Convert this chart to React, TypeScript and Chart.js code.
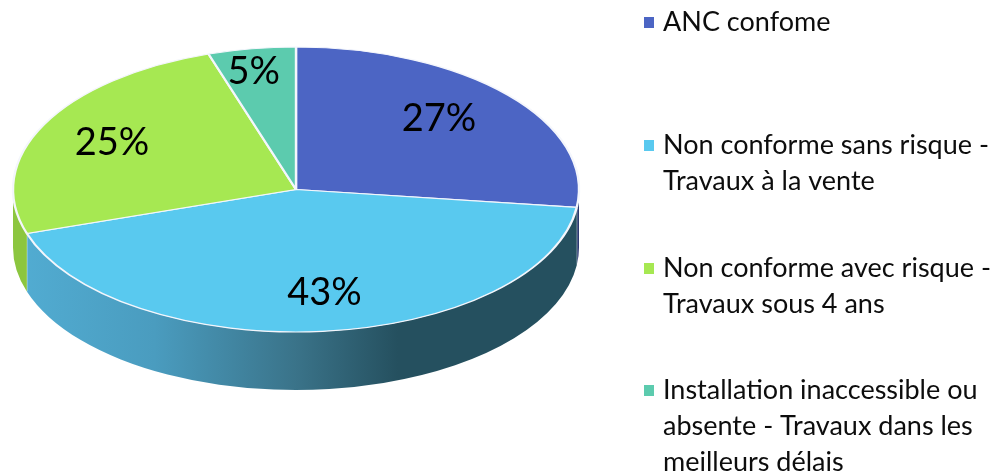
import React, { useEffect, useRef } from "react";
import { Chart, registerables } from "chart.js";

Chart.register(...registerables);

const categories: string[][] = [
  ["ANC confome"],
  ["Non conforme sans risque -", "Travaux à la vente"],
  ["Non conforme avec risque -", "Travaux sous 4 ans"],
  ["Installation inaccessible ou", "absente - Travaux dans les", "meilleurs délais"],
];
const values = [27, 43, 25, 5];
const topColors = ["#4C65C4", "#59C9EF", "#A6E852", "#5CCBAE"];
const sideColors = ["#2A3A70", "", "#8CC63F", "#3E8A76"];
const labelNudges = [[-12, -2], [9, 0], [0, 0], [-10, -15]];
const legendBaselines = [31, 154, 277, 399];

const CX = 296, CY = 189.5, RX = 283, RY = 142.5, DEPTH = 58;
const FONT = "Lato";

const pie3d = {
  id: "pie3d",
  beforeDatasetsDraw(chart: any) {
    const ctx = chart.ctx as CanvasRenderingContext2D;
    const arcs = chart.getDatasetMeta(0).data;
    const blue = ctx.createLinearGradient(CX - RX, 0, CX + RX, 0);
    blue.addColorStop(0, "#52ADD3");
    blue.addColorStop(0.25, "#4A9CBF");
    blue.addColorStop(0.5, "#3A7389");
    blue.addColorStop(0.68, "#25505F");
    blue.addColorStop(1, "#25505F");
    arcs.forEach((arc: any, i: number) => {
      const a = Math.max(arc.startAngle, 0);
      const b = Math.min(arc.endAngle, Math.PI);
      if (b <= a) return;
      ctx.save();
      ctx.beginPath();
      ctx.ellipse(CX, CY, RX, RY, 0, a, b);
      ctx.ellipse(CX, CY + DEPTH, RX, RY, 0, b, a, true);
      ctx.closePath();
      ctx.fillStyle = i === 1 ? blue : sideColors[i];
      ctx.fill();
      const x = CX + RX * Math.cos(b);
      const y = CY + RY * Math.sin(b);
      if (b < Math.PI) {
        ctx.beginPath();
        ctx.moveTo(x, y);
        ctx.lineTo(x, y + DEPTH);
        ctx.strokeStyle = "rgba(255,255,255,0.7)";
        ctx.lineWidth = 1;
        ctx.stroke();
      }
      ctx.restore();
    });
    const first = arcs[0];
    ctx.save();
    ctx.translate(CX, CY);
    ctx.scale(RX / first.outerRadius, RY / first.outerRadius);
    ctx.translate(-first.x, -first.y);
  },
  afterDatasetsDraw(chart: any) {
    const ctx = chart.ctx as CanvasRenderingContext2D;
    ctx.restore();
    const arcs = chart.getDatasetMeta(0).data;
    const total = values.reduce((s, v) => s + v, 0);
    ctx.save();
    ctx.fillStyle = "#000000";
    ctx.textAlign = "center";
    ctx.textBaseline = "middle";
    ctx.font = `38px ${FONT}`;
    arcs.forEach((arc: any, i: number) => {
      const mid = (arc.startAngle + arc.endAngle) / 2;
      const x = CX + RX * 0.73 * Math.cos(mid) + labelNudges[i][0];
      const y = CY + RY * 0.73 * Math.sin(mid) + labelNudges[i][1];
      ctx.fillText(`${Math.round((values[i] / total) * 100)}%`, x, y);
    });
    ctx.textAlign = "left";
    ctx.textBaseline = "alphabetic";
    ctx.font = `27px ${FONT}`;
    categories.forEach((lines, i) => {
      const base = legendBaselines[i];
      ctx.fillStyle = topColors[i];
      ctx.fillRect(644, base - 14, 10, 11);
      ctx.fillStyle = "#0D0D0D";
      lines.forEach((t, j) => ctx.fillText(t, 663, base + j * 36));
    });
    ctx.restore();
  },
};

export default function App() {
  const ref = useRef<HTMLCanvasElement>(null);
  useEffect(() => {
    const chart = new Chart(ref.current as HTMLCanvasElement, {
      type: "pie",
      data: {
        labels: categories,
        datasets: [
          {
            data: values,
            backgroundColor: topColors,
            borderColor: "#F4F6FC",
            borderWidth: 2,
            clip: false,
          } as any,
        ],
      },
      options: {
        responsive: false,
        animation: false,
        layout: { padding: 0 },
        plugins: { legend: { display: false }, tooltip: { enabled: false }, title: { display: false } },
      },
      plugins: [pie3d],
    });
    return () => chart.destroy();
  }, []);
  return (
    <div style={{ position: "fixed", left: 0, top: 0, width: 994, height: 474, background: "#fff" }}>
      <canvas ref={ref} width={994} height={474} style={{ display: "block" }} />
    </div>
  );
}
